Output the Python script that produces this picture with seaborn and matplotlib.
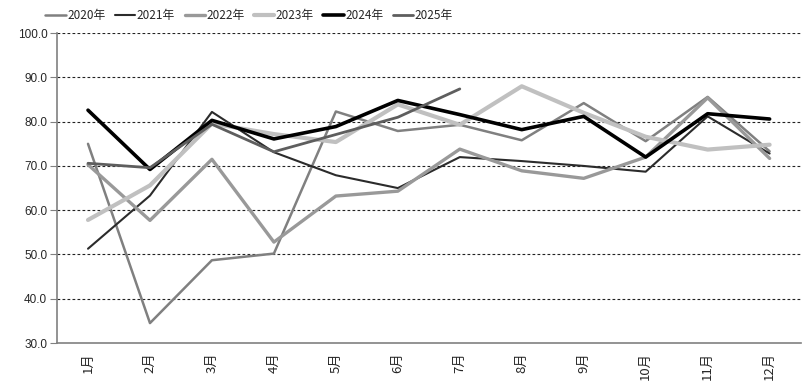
import numpy as np
import pandas as pd
import matplotlib
matplotlib.use("Agg")
import matplotlib.pyplot as plt
import seaborn as sns

# Data
months = ["1月", "2月", "3月", "4月", "5月", "6月", "7月", "8月", "9月", "10月", "11月", "12月"]
y2020 = [75.0, 34.5, 48.7, 50.2, 82.3, 77.9, 79.3, 75.8, 84.2, 75.6, 85.6, 73.3]
y2021 = [51.3, 63.3, 82.2, 73.1, 67.9, 65.0, 72.0, 71.1, 70.0, 68.7, 81.2, 72.8]
y2022 = [70.3, 57.7, 71.5, 52.8, 63.2, 64.3, 73.8, 68.9, 67.2, 72.0, 85.4, 71.7]
y2023 = [57.8, 65.6, 79.6, 77.2, 75.4, 83.9, 79.3, 88.0, 82.0, 76.6, 73.7, 74.8]
y2024 = [82.6, 69.2, 80.3, 76.1, 78.9, 84.8, 81.6, 78.2, 81.2, 72.0, 81.8, 80.6]
y2025 = [70.6, 69.6, 79.4, 73.2, 77.1, 81.0, 87.4]

series = {
    "2020年": (y2020, "#808080", 1.8),
    "2021年": (y2021, "#2b2b2b", 1.5),
    "2022年": (y2022, "#999999", 2.4),
    "2023年": (y2023, "#c0c0c0", 3.0),
    "2024年": (y2024, "#000000", 2.6),
    "2025年": (y2025, "#5e5e5e", 2.0),
}

sns.set_style("white")
plt.rcParams["font.family"] = ["Noto Sans CJK SC", "DejaVu Sans"]

fig = plt.figure(figsize=(8.1, 3.9), dpi=100)
ax = fig.add_axes([0.0704, 0.1205, 0.918, 0.7945])

for name, (vals, color, lw) in series.items():
    df = pd.DataFrame({"x": np.arange(len(vals)), "y": vals})
    sns.lineplot(data=df, x="x", y="y", ax=ax, color=color, linewidth=lw, label=name)

ax.set_xlim(-0.5, 11.5)
ax.set_ylim(30, 100)
ax.set_yticks(np.arange(30, 101, 10))
ax.set_yticklabels([f"{v:.1f}" for v in np.arange(30, 101, 10)], fontsize=8.5,
                   family=["Liberation Sans", "DejaVu Sans"])
ax.set_xticks(np.arange(12))
ax.set_xticklabels(months, rotation=90, fontsize=9.5)
ax.set_xlabel("")
ax.set_ylabel("")

for v in np.arange(40, 101, 10):
    ax.axhline(v, color="#222222", linestyle=(0, (2.5, 2)), linewidth=0.8, zorder=0)

for s in ["top", "right"]:
    ax.spines[s].set_visible(False)
for s in ["left", "bottom"]:
    ax.spines[s].set_color("#808080")
    ax.spines[s].set_linewidth(1.2)
ax.tick_params(axis="y", left=True, length=5, width=0.8, color="#808080", pad=2)
ax.tick_params(axis="x", bottom=False, pad=3)

ax.get_legend().remove()
handles, labels = ax.get_legend_handles_labels()
fig.legend(handles, labels, loc="upper left", bbox_to_anchor=(0.043, 1.005), ncol=6,
           frameon=False, fontsize=8.5, handlelength=1.7, handletextpad=0.15,
           columnspacing=0.8)

fig.savefig("out.png", dpi=100)
